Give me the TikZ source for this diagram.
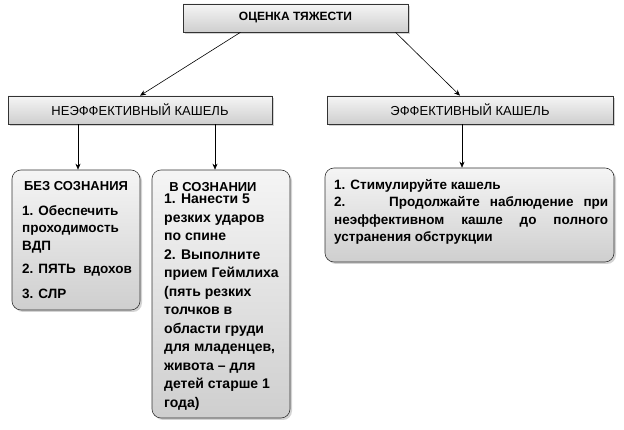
\documentclass[tikz,border=0pt]{standalone}
\usepackage{fontspec}
\setmainfont{Liberation Sans}
\usetikzlibrary{shadows,arrows.meta}
\begin{document}
\begin{tikzpicture}[x=1pt,y=1pt,
  box/.style={draw=black!80,line width=0.6pt,top color=gray!8,bottom color=gray!38,drop shadow={shadow xshift=2pt,shadow yshift=-2pt,opacity=0.35}},
  txt/.style={font=\fontsize{13.5}{17.5}\selectfont\bfseries,inner sep=0pt},
  arr/.style={-{Stealth[length=6pt,width=5pt]},line width=0.6pt}]
\useasboundingbox (0,0) rectangle (624,430);
% top row
\node[box,minimum width=225pt,minimum height=28pt,font=\fontsize{12}{13}\selectfont\bfseries] (top) at (295.5,412) {ОЦЕНКА ТЯЖЕСТИ};
\node[box,minimum width=264pt,minimum height=28pt,font=\fontsize{13}{15}\selectfont] (ne) at (140,320) {НЕЭФФЕКТИВНЫЙ КАШЕЛЬ};
\node[box,minimum width=286pt,minimum height=28pt,font=\fontsize{13}{15}\selectfont] (ef) at (470,320) {ЭФФЕКТИВНЫЙ КАШЕЛЬ};
% lower boxes
\node[box,rounded corners=9pt,minimum width=128pt,minimum height=140pt] (bez) at (76,190) {};
\node[box,rounded corners=9pt,minimum width=138pt,minimum height=248pt] (vs) at (221,136) {};
\node[box,rounded corners=9pt,minimum width=289pt,minimum height=94pt] (st) at (469.5,215) {};
% texts
\node[txt,font=\fontsize{13}{15}\selectfont\bfseries] (bezt) at (76,244) {БЕЗ СОЗНАНИЯ};
\node[txt,anchor=north west,align=left] (bez1) at (22,225) {1. Обеспечить\\проходимость\\ВДП};
\node[txt,anchor=north west] (bez2) at (22,166) {2. ПЯТЬ \ вдохов};
\node[txt,anchor=north west] (bez3) at (22,141) {3. СЛР};
\node[txt,font=\fontsize{13}{15}\selectfont\bfseries] (vst) at (213,243) {В СОЗНАНИИ};
\node[txt,font=\fontsize{14}{18.5}\selectfont\bfseries,anchor=north west,align=left] (vs1) at (164,236) {1. Нанести 5\\резких ударов\\по спине\\2. Выполните\\прием Геймлиха\\(пять резких\\толчков в\\области груди\\для младенцев,\\живота – для\\детей старше 1\\года)};
\node[txt,anchor=north west,align=left] (st1) at (334,251) {1. Стимулируйте кашель\\\makebox[274pt][s]{2. \ \ Продолжайте наблюдение при}\\\makebox[274pt][s]{неэффективном кашле до полного}\\устранения обструкции};
% connectors
\draw[arr] ([xshift=-55pt]top.south) -- (ne.north);
\draw[arr] ([xshift=100pt]top.south) -- (ef.north -| 460,0);
\draw[arr] (ne.south -| 78,0) -- (bez.north -| 78,0);
\draw[arr] (ne.south -| 215,0) -- (vs.north -| 215,0);
\draw[arr] (ef.south -| 462,0) -- (st.north -| 462,0);
\end{tikzpicture}
\end{document}
